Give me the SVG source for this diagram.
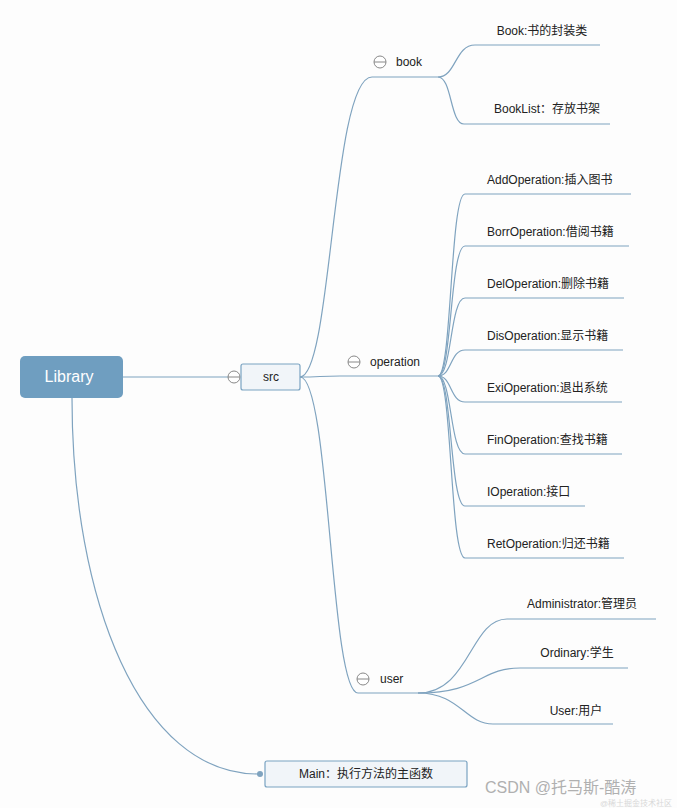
<svg xmlns="http://www.w3.org/2000/svg" width="677" height="808" viewBox="0 0 677 808">
<style>
.c{fill:none;stroke:#7fa3bf;stroke-width:1.2}
.t{font-family:"Liberation Sans","Noto Sans CJK SC",sans-serif;font-size:12px;fill:#222}
.m{fill:#fff;stroke:#888;stroke-width:1}
.mb{stroke:#888;stroke-width:1}
.box{fill:#f1f5f9;stroke:#7aa3c2;stroke-width:1.2}
</style>
<rect width="677" height="808" fill="#fdfdfd"/>
<g id="connectors">
<path class="c" d="M123,377 L228,377"/>
<path class="c" d="M300,377 C332,377 332,77 372,77 L438,77"/>
<path class="c" d="M300,377 C320,377 320,376 340,376 L438,376"/>
<path class="c" d="M300,377 C330,377 330,693 358,693 L418,693"/>
<path class="c" d="M438,77 C456,77 455,45 475,45 L600,45"/>
<path class="c" d="M438,77 C452,77 450,124 464,124 L610,124"/>
<path class="c" d="M438,376 C452,376 450,194 465,194 L631,194"/>
<path class="c" d="M438,376 C452,376 450,246 465,246 L629,246"/>
<path class="c" d="M438,376 C452,376 450,298 465,298 L624,298"/>
<path class="c" d="M438,376 C452,376 450,350 465,350 L623,350"/>
<path class="c" d="M438,376 C452,376 450,402 465,402 L622,402"/>
<path class="c" d="M438,376 C452,376 450,454 465,454 L622,454"/>
<path class="c" d="M438,376 C452,376 450,506 465,506 L585,506"/>
<path class="c" d="M438,376 C452,376 450,558 465,558 L624,558"/>
<path class="c" d="M418,693 C470,693 470,619 507,619 L656,619"/>
<path class="c" d="M418,693 C480,693 480,668 520,668 L628,668"/>
<path class="c" d="M418,693 C460,693 465,724 493,724 L613,724"/>
<path class="c" d="M72,398 C72,600 140,774 258,774"/>
<circle cx="260" cy="774" r="3" fill="#7fa3bf"/>
</g>
<g id="library">
<rect x="20" y="356" width="103" height="42" rx="5" fill="#6f9ec0"/>
<text x="69" y="382" text-anchor="middle" font-family="Liberation Sans,sans-serif" font-size="16" fill="#fff">Library</text>
</g>
<g id="src">
<circle class="m" cx="234" cy="377" r="6"/><line class="mb" x1="228" y1="377" x2="240" y2="377"/>
<rect class="box" x="241" y="364" width="59" height="26" rx="2"/>
<text class="t" x="271" y="381" text-anchor="middle" font-size="13">src</text>
</g>
<g id="book">
<circle class="m" cx="380" cy="62" r="6"/><line class="mb" x1="374" y1="62" x2="386" y2="62"/>
<text class="t" x="396" y="66">book</text>
</g>
<g id="operation">
<circle class="m" cx="354" cy="362" r="6"/><line class="mb" x1="348" y1="362" x2="360" y2="362"/>
<text class="t" x="370" y="366">operation</text>
</g>
<g id="user">
<circle class="m" cx="363" cy="679" r="6"/><line class="mb" x1="357" y1="679" x2="369" y2="679"/>
<text class="t" x="380" y="683">user</text>
</g>
<g id="leaves">
<text class="t" x="542" y="35" text-anchor="middle">Book:书的封装类</text>
<text class="t" x="547" y="113" text-anchor="middle">BookList：存放书架</text>
<text class="t" x="487" y="184">AddOperation:插入图书</text>
<text class="t" x="487" y="236">BorrOperation:借阅书籍</text>
<text class="t" x="487" y="288">DelOperation:删除书籍</text>
<text class="t" x="487" y="340">DisOperation:显示书籍</text>
<text class="t" x="487" y="392">ExiOperation:退出系统</text>
<text class="t" x="487" y="444">FinOperation:查找书籍</text>
<text class="t" x="487" y="496">IOperation:接口</text>
<text class="t" x="487" y="548">RetOperation:归还书籍</text>
<text class="t" x="582" y="608" text-anchor="middle">Administrator:管理员</text>
<text class="t" x="577" y="657" text-anchor="middle">Ordinary:学生</text>
<text class="t" x="576" y="715" text-anchor="middle">User:用户</text>
</g>
<g id="main">
<rect class="box" x="265" y="761" width="202" height="26" rx="2"/>
<text class="t" x="366" y="778" text-anchor="middle" font-size="13">Main：执行方法的主函数</text>
</g>
<g id="watermark">
<text x="485" y="793" font-family="Liberation Sans,Noto Sans CJK SC,sans-serif" font-size="16" fill="#b0b0b0">CSDN @托马斯-酷涛</text>
<text x="672" y="806" text-anchor="end" font-family="Liberation Sans,Noto Sans CJK SC,sans-serif" font-size="8" fill="#d8d8d8">@稀土掘金技术社区</text>
</g>
</svg>
